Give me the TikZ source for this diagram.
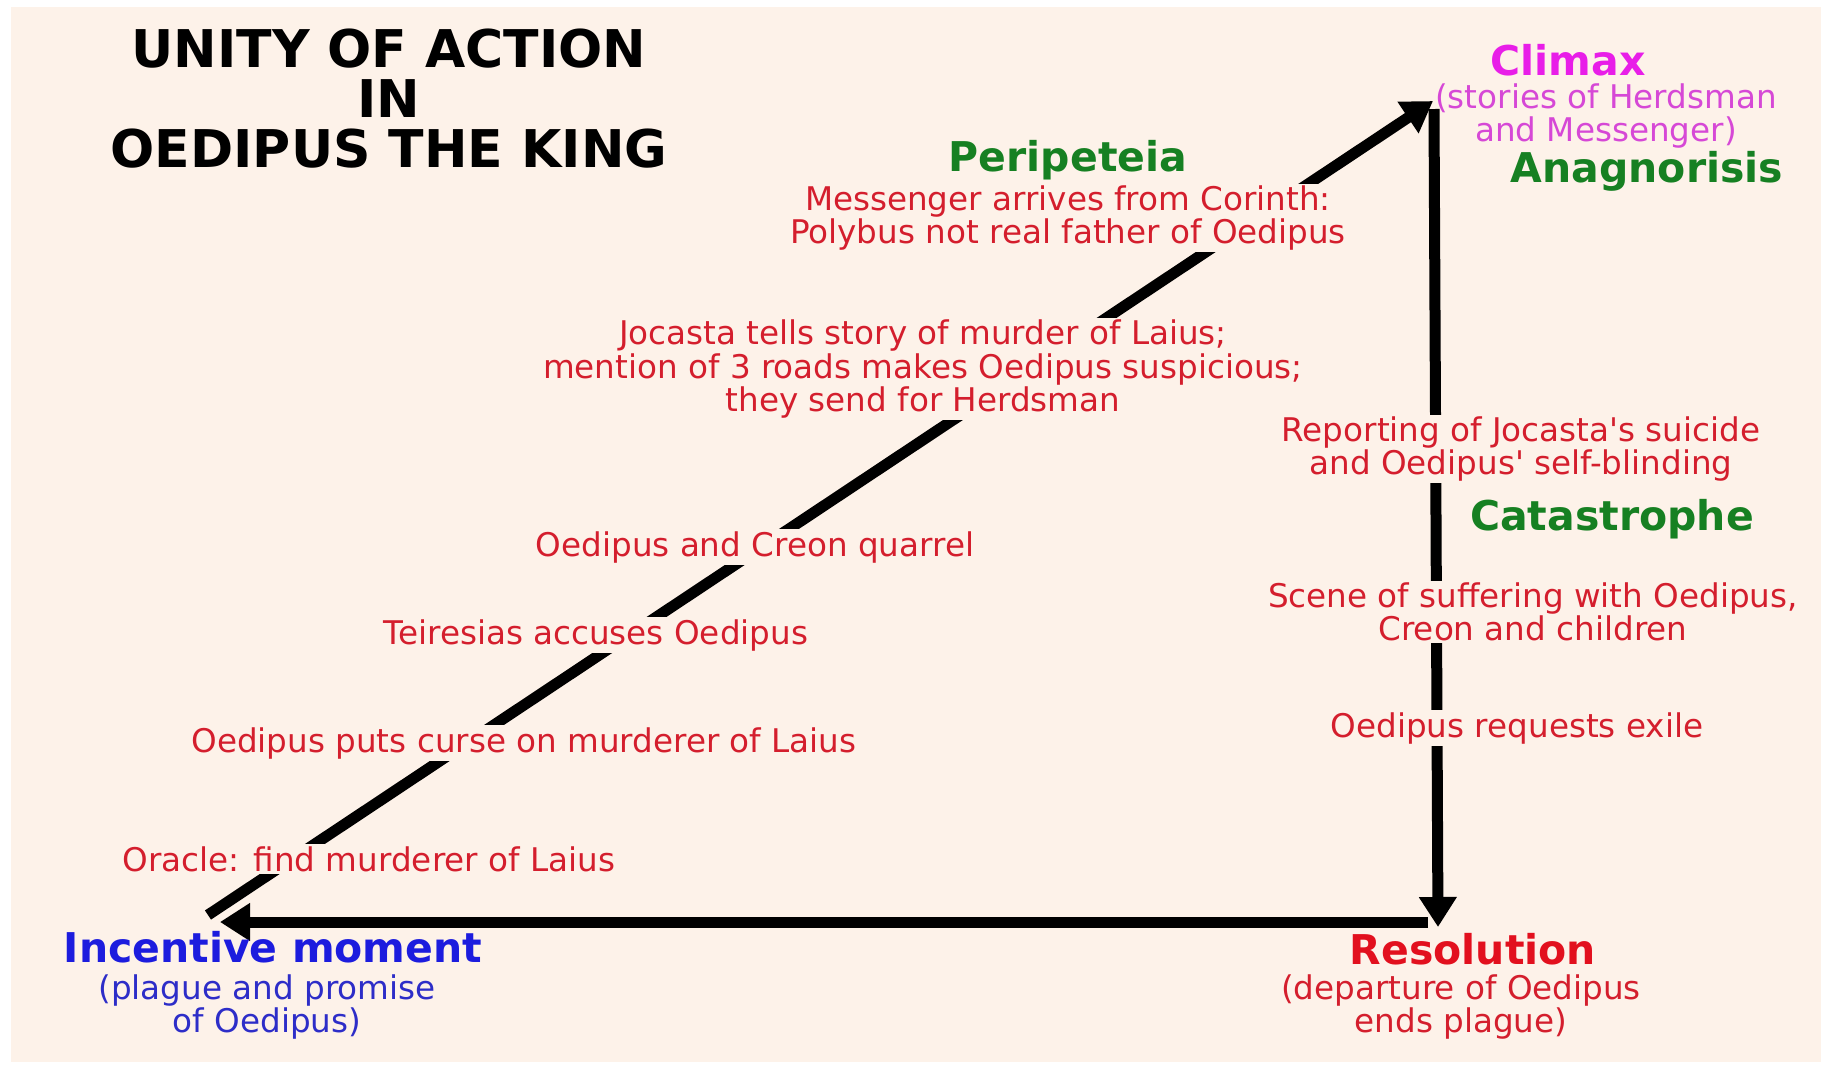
\documentclass[tikz,border=0pt]{standalone}
\usepackage{fontspec}
\setmainfont{DejaVu Sans}
\usepackage{tikz}
\usetikzlibrary{arrows.meta}
\definecolor{cream}{RGB}{253,242,233}
\definecolor{evred}{RGB}{212,30,45}
\definecolor{stgreen}{RGB}{22,128,34}
\definecolor{climaxpink}{RGB}{232,30,232}
\definecolor{notepink}{RGB}{214,72,214}
\definecolor{stblue}{RGB}{28,28,222}
\definecolor{noteblue}{RGB}{45,45,200}
\definecolor{stred}{RGB}{226,16,30}
\tikzstyle{event} = [fill=cream, text=evred, inner sep=1pt, align=center,
  font=\fontsize{16.3}{16.6}\selectfont]
\tikzstyle{stage} = [inner sep=1pt, align=center,
  font=\fontsize{20.5}{21}\selectfont\bfseries]
\tikzstyle{note} = [inner sep=1pt, align=center,
  font=\fontsize{16.3}{16.6}\selectfont]
\tikzstyle{line} = [draw, line width=5.5pt, -{Triangle[length=15pt,width=18pt]}]

\begin{document}
\begin{tikzpicture}[x=0.5pt, y=-0.5pt]

\useasboundingbox (0,0) rectangle (1821,1067);
\fill [cream] (11,7) rectangle (1821,1062);

\coordinate (base_left) at (208,915);
\coordinate (incentive_tip) at (220,922);
\coordinate (climax_tip) at (1433,101);
\coordinate (climax_foot) at (1434,109);
\coordinate (resolution_tip) at (1438,927);
\coordinate (base_right) at (1428,922);

\path [line] (base_left) -- (climax_tip);
\path [line] (climax_foot) -- (resolution_tip);
\path [line] (base_right) -- (incentive_tip);

\node [align=center, font=\fontsize{26}{25}\selectfont\bfseries] (title) at (389,99)
  {UNITY OF ACTION\\IN\\OEDIPUS THE KING};

% rising action
\node [event] (oracle) at (369,859) {Oracle: find murderer of Laius};
\node [event] (curse) at (524,743) {Oedipus puts curse on murderer of Laius};
\node [event] (teiresias) at (596,635) {Teiresias accuses Oedipus};
\node [event] (quarrel) at (755,547) {Oedipus and Creon quarrel};
\node [event] (jocasta) at (923,369) {Jocasta tells story of murder of Laius;\\
  mention of 3 roads makes Oedipus suspicious;\\they send for Herdsman};
\node [event] (messenger) at (1068,218) {Messenger arrives from Corinth:\\
  Polybus not real father of Oedipus};
\node [stage, text=stgreen] (peripeteia) at (1068,160) {Peripeteia};

% falling action
\node [event] (reporting) at (1521,449) {Reporting of Jocasta\textquotesingle s suicide\\
  and Oedipus\textquotesingle{} self-blinding};
\node [stage, text=stgreen] (catastrophe) at (1612,519) {Catastrophe};
\node [event] (suffering) at (1533,612) {Scene of suffering with Oedipus,\\
  Creon and children};
\node [event] (exile) at (1517,728) {Oedipus requests exile};

% corners
\node [stage, text=climaxpink] (climax) at (1568,60) {Climax};
\node [note, text=notepink] (climax_note) at (1606,116) {(stories of Herdsman\\and Messenger)};
\node [stage, text=stgreen] (anagnorisis) at (1647,171) {Anagnorisis};
\node [stage, text=stblue] (incentive) at (273,947) {Incentive moment};
\node [note, text=noteblue] (incentive_note) at (267,1007) {(plague and promise\\of Oedipus)};
\node [stage, text=stred] (resolution) at (1473,949) {Resolution};
\node [note, text=evred] (resolution_note) at (1461,1007) {(departure of Oedipus\\ends plague)};

\end{tikzpicture}
\end{document}
